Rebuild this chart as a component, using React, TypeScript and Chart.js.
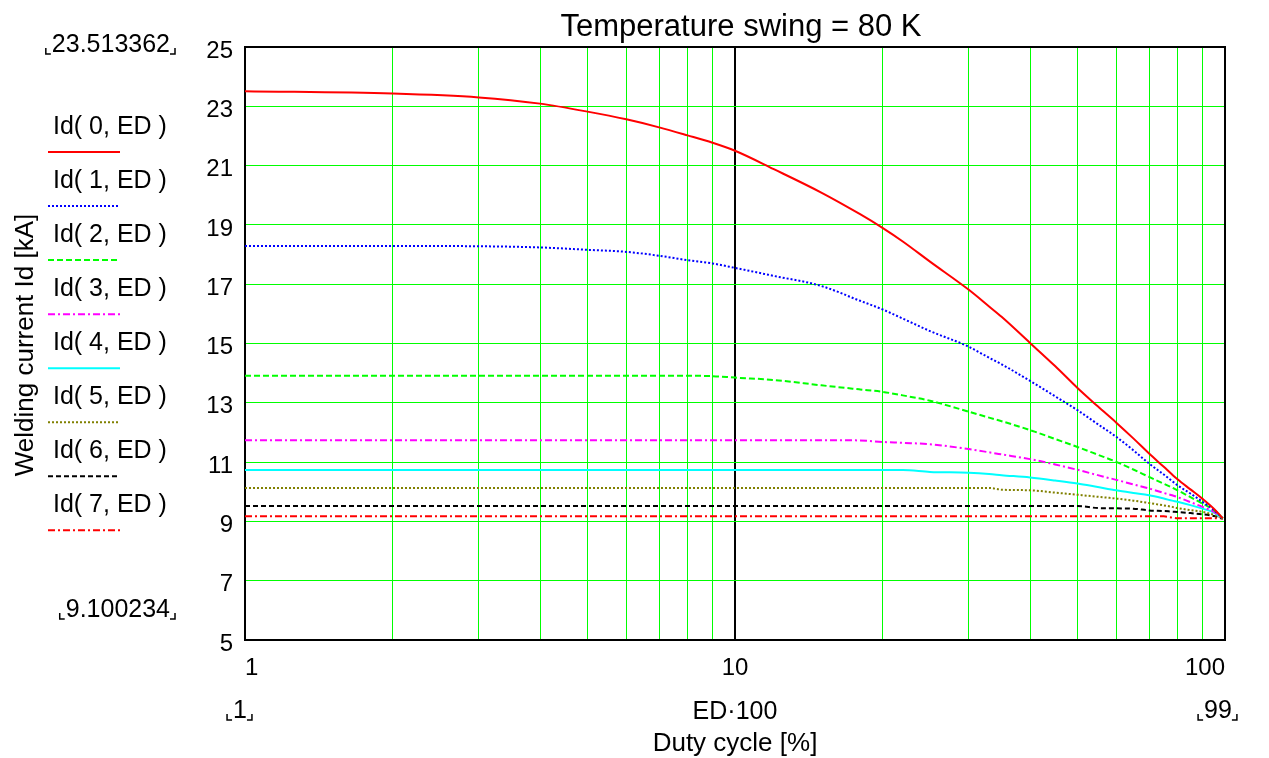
import React, { useEffect, useRef } from "react";
import { Chart, registerables } from "chart.js";

Chart.register(...registerables);

// ---------- data ----------
const ED = [1, 2, 3, 4, 5, 6, 7, 8, 9, 10, 12, 15, 18, 20, 22, 25, 30, 33, 35, 40, 45, 50, 55, 60, 65, 70, 75, 78, 80, 85, 90, 95, 99];

const ID0 = [23.51, 23.43, 23.3, 23.09, 22.82, 22.56, 22.29, 22.02, 21.77, 21.5, 20.88, 20.09, 19.36, 18.9, 18.44, 17.76, 16.81, 16.25, 15.9, 15.02, 14.24, 13.5, 12.88, 12.33, 11.8, 11.29, 10.84, 10.58, 10.42, 10.08, 9.76, 9.42, 9.1];
const ID1 = [18.29, 18.29, 18.28, 18.24, 18.16, 18.09, 17.96, 17.81, 17.7, 17.55, 17.28, 16.94, 16.44, 16.15, 15.84, 15.42, 14.89, 14.52, 14.3, 13.74, 13.22, 12.75, 12.28, 11.85, 11.4, 10.95, 10.58, 10.36, 10.22, 9.94, 9.66, 9.38, 9.1];
const ID2 = [13.91, 13.91, 13.91, 13.91, 13.91, 13.91, 13.91, 13.91, 13.9, 13.85, 13.77, 13.59, 13.45, 13.37, 13.25, 13.07, 12.7, 12.5, 12.38, 12.08, 11.78, 11.51, 11.25, 11.01, 10.75, 10.5, 10.27, 10.14, 10.05, 9.82, 9.6, 9.38, 9.1];
const ID3 = [11.74, 11.74, 11.74, 11.74, 11.74, 11.74, 11.74, 11.74, 11.74, 11.74, 11.74, 11.74, 11.73, 11.68, 11.65, 11.6, 11.44, 11.33, 11.26, 11.1, 10.92, 10.74, 10.56, 10.4, 10.25, 10.11, 9.96, 9.88, 9.82, 9.65, 9.49, 9.32, 9.1];
const ID4 = [10.73, 10.73, 10.73, 10.73, 10.73, 10.73, 10.73, 10.73, 10.73, 10.73, 10.73, 10.73, 10.73, 10.73, 10.73, 10.67, 10.64, 10.6, 10.56, 10.48, 10.38, 10.28, 10.16, 10.05, 9.96, 9.88, 9.77, 9.7, 9.66, 9.55, 9.43, 9.3, 9.1];
const ID5 = [10.13, 10.13, 10.13, 10.13, 10.13, 10.13, 10.13, 10.13, 10.13, 10.13, 10.13, 10.13, 10.13, 10.13, 10.13, 10.13, 10.13, 10.13, 10.07, 10.05, 9.97, 9.9, 9.83, 9.77, 9.7, 9.62, 9.54, 9.49, 9.45, 9.38, 9.32, 9.22, 9.1];
const ID6 = [9.52, 9.52, 9.52, 9.52, 9.52, 9.52, 9.52, 9.52, 9.52, 9.52, 9.52, 9.52, 9.52, 9.52, 9.52, 9.52, 9.52, 9.52, 9.52, 9.52, 9.52, 9.52, 9.45, 9.44, 9.43, 9.37, 9.35, 9.33, 9.32, 9.28, 9.24, 9.18, 9.1];
const ID7 = [9.17, 9.17, 9.17, 9.17, 9.17, 9.17, 9.17, 9.17, 9.17, 9.17, 9.17, 9.17, 9.17, 9.17, 9.17, 9.17, 9.17, 9.17, 9.17, 9.17, 9.17, 9.17, 9.17, 9.17, 9.17, 9.17, 9.17, 9.13, 9.11, 9.11, 9.11, 9.11, 9.1];

const SERIES = [ID0, ID1, ID2, ID3, ID4, ID5, ID6, ID7];
const SERIES_LABELS = ["Id( 0, ED )", "Id( 1, ED )", "Id( 2, ED )", "Id( 3, ED )", "Id( 4, ED )", "Id( 5, ED )", "Id( 6, ED )", "Id( 7, ED )"];
const SERIES_COLORS = ["#ff0000", "#0000ff", "#00ff00", "#ff00ff", "#00ffff", "#808000", "#000000", "#ff0000"];
const SERIES_DASHES: number[][] = [[], [2, 2], [6, 3], [7, 3, 2, 3], [], [2, 2], [5, 3], [7, 3, 2, 3]];

const X_GRID_TICKS = [1, 2, 3, 4, 5, 6, 7, 8, 9, 10, 20, 30, 40, 50, 60, 70, 80, 90, 100];
const X_LABELED_TICKS = [1, 10, 100];
const X_MARKER = 10;
const Y_MIN = 5;
const Y_MAX = 25;
const Y_STEP = 2;

const TITLE = "Temperature swing = 80 K";
const Y_TITLE = "Welding current Id [kA]";
const X_TITLE = "Duty cycle [%]";
const X_EXPR = "ED·100";
const Y_UPPER_LIMIT = "23.513362";
const Y_LOWER_LIMIT = "9.100234";
const X_LOWER_LIMIT = "1";
const X_UPPER_LIMIT = "99";

const FONT = '"Liberation Sans", Arial, sans-serif';

function bracketed(ctx: CanvasRenderingContext2D, text: string, x: number, y: number, align: "left" | "right" | "center") {
  ctx.textAlign = align;
  ctx.textBaseline = "alphabetic";
  ctx.fillText(text, x, y);
  const w = ctx.measureText(text).width;
  let l = x;
  if (align === "right") l = x - w;
  if (align === "center") l = x - w / 2;
  const r = l + w;
  const bl = l - 6;
  const br = r + 5;
  const by = y + 2;
  ctx.save();
  ctx.lineWidth = 1.5;
  ctx.strokeStyle = "#000";
  ctx.setLineDash([]);
  ctx.beginPath();
  ctx.moveTo(bl, by - 6);
  ctx.lineTo(bl, by);
  ctx.lineTo(bl + 5, by);
  ctx.moveTo(br, by - 6);
  ctx.lineTo(br, by);
  ctx.lineTo(br - 5, by);
  ctx.stroke();
  ctx.restore();
}

const overlayPlugin = {
  id: "mathcadOverlay",
  beforeDatasetsDraw(chart: any) {
    const { ctx, chartArea: ca } = chart;
    ctx.save();
    ctx.strokeStyle = "#000";
    ctx.lineWidth = 2;
    ctx.strokeRect(ca.left, ca.top, ca.right - ca.left, ca.bottom - ca.top);
    ctx.restore();
  },
  afterDraw(chart: any) {
    const { ctx, chartArea: ca } = chart;
    ctx.save();
    ctx.fillStyle = "#000";

    // title
    ctx.font = `31px ${FONT}`;
    ctx.textAlign = "center";
    ctx.textBaseline = "alphabetic";
    ctx.fillText(TITLE, 741, 36);

    // limits
    ctx.font = `25px ${FONT}`;
    bracketed(ctx, Y_UPPER_LIMIT, 170, 52, "right");
    bracketed(ctx, Y_LOWER_LIMIT, 170, 617, "right");
    bracketed(ctx, X_LOWER_LIMIT, 240, 718, "center");
    bracketed(ctx, X_UPPER_LIMIT, 1218, 718, "center");

    ctx.textAlign = "center";
    ctx.fillText(X_EXPR, (ca.left + ca.right) / 2, 719);

    // axis titles
    ctx.font = `26px ${FONT}`;
    ctx.fillText(X_TITLE, (ca.left + ca.right) / 2, 751);
    ctx.save();
    ctx.translate(33, 345);
    ctx.rotate(-Math.PI / 2);
    ctx.textAlign = "center";
    ctx.fillText(Y_TITLE, 0, 0);
    ctx.restore();

    // legend
    ctx.font = `25px ${FONT}`;
    ctx.textAlign = "left";
    for (let k = 0; k < SERIES_LABELS.length; k++) {
      const ly = 152 + 54.05 * k;
      ctx.fillStyle = "#000";
      ctx.fillText(SERIES_LABELS[k], 53, ly - 18);
      ctx.strokeStyle = SERIES_COLORS[k];
      ctx.lineWidth = 2;
      ctx.setLineDash(SERIES_DASHES[k]);
      ctx.beginPath();
      ctx.moveTo(48, ly);
      ctx.lineTo(120, ly);
      ctx.stroke();
    }
    ctx.restore();
  },
};

export default function App() {
  const ref = useRef<HTMLCanvasElement>(null);

  useEffect(() => {
    if (!ref.current) return;
    const datasets = SERIES.map((vals, k) => ({
      label: SERIES_LABELS[k],
      data: ED.map((x, i) => ({ x, y: vals[i] })),
      borderColor: SERIES_COLORS[k],
      backgroundColor: SERIES_COLORS[k],
      borderDash: SERIES_DASHES[k],
      borderWidth: 2,
      pointRadius: 0,
      fill: false,
      cubicInterpolationMode: "monotone" as const,
    }));

    const chart = new Chart(ref.current, {
      type: "line",
      data: { datasets },
      plugins: [overlayPlugin],
      options: {
        responsive: false,
        animation: false,
        devicePixelRatio: 1,
        parsing: false,
        layout: { padding: { top: 47, right: 44, left: 0, bottom: 0 } },
        plugins: {
          legend: { display: false },
          title: { display: false },
          tooltip: { enabled: false },
        },
        scales: {
          x: {
            type: "logarithmic",
            min: 1,
            max: 100,
            position: "bottom",
            afterBuildTicks: (s: any) => {
              s.ticks = X_GRID_TICKS.map((v) => ({ value: v }));
            },
            afterFit: (s: any) => {
              s.height = 118;
              s.paddingLeft = 0;
              s.paddingRight = 0;
            },
            border: { display: false },
            grid: {
              drawTicks: false,
              color: (c: any) => (c.tick && c.tick.value === X_MARKER ? "#000000" : "#00ff00"),
              lineWidth: (c: any) => (c.tick && c.tick.value === X_MARKER ? 2 : 1),
            },
            ticks: {
              autoSkip: false,
              maxRotation: 0,
              minRotation: 0,
              align: "inner",
              padding: 14,
              color: "#000",
              font: { family: FONT, size: 24 },
              callback: (v: any) => (X_LABELED_TICKS.includes(Number(v)) ? String(v) : ""),
            },
          },
          y: {
            type: "linear",
            min: Y_MIN,
            max: Y_MAX,
            afterFit: (s: any) => {
              s.width = 245;
              s.paddingTop = 0;
              s.paddingBottom = 0;
            },
            border: { display: false },
            grid: { drawTicks: false, color: "#00ff00", lineWidth: 1 },
            ticks: {
              stepSize: Y_STEP,
              padding: 12,
              labelOffset: 4,
              color: "#000",
              font: { family: FONT, size: 24 },
            },
          },
        },
      } as any,
    });
    return () => chart.destroy();
  }, []);

  return (
    <div style={{ position: "fixed", left: 0, top: 0, width: 1269, height: 758, background: "#fff" }}>
      <canvas ref={ref} width={1269} height={758} style={{ display: "block", width: 1269, height: 758 }} />
    </div>
  );
}
